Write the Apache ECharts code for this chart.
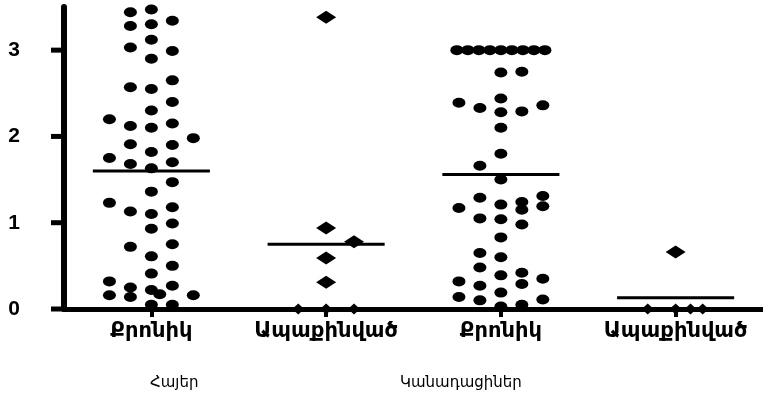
<!DOCTYPE html>
<html><head><meta charset="utf-8">
<script src="https://cdn.jsdelivr.net/npm/echarts@6/dist/echarts.min.js"></script>
<style>html,body{margin:0;padding:0;background:#fff}#c{width:763px;height:400px}</style>
</head><body><div id="c"></div>
<script>
// Categories (x axis) and group labels
var categories = ['Քրոնիկ', 'Ապաքինված', 'Քրոնիկ', 'Ապաքինված'];
var groupLabels = ['Հայեր', 'Կանադացիներ'];
var yTicks = [0, 1, 2, 3];
// Each point: [value, column index within the dot plot]
var armChronic = [
  [3.44,-1],[3.47,0],[3.28,-1],[3.30,0],[3.34,1],[3.03,-1],[3.12,0],[2.99,1],[2.90,0],[2.65,1],
  [2.57,-1],[2.55,0],[2.40,1],[2.30,0],[2.20,-2],[2.12,-1],[2.10,0],[2.15,1],[1.98,2],[1.91,-1],
  [1.90,1],[1.82,0],[1.75,-2],[1.68,-1],[1.63,0],[1.70,1],[1.47,1],[1.36,0],[1.23,-2],[1.13,-1],
  [1.10,0],[1.18,1],[0.93,0],[0.99,1],[0.72,-1],[0.75,1],[0.61,0],[0.50,1],[0.41,0],[0.32,-2],
  [0.25,-1],[0.22,0],[0.27,1],[0.16,-2],[0.14,-1],[0.17,0.4],[0.16,2],[0.05,0],[0.05,1]
];
var armRecovered = [[3.38,0],[0.94,0],[0.78,1.33],[0.59,0],[0.31,0],[0,-1.33],[0,0],[0,1.33]];
var canChronic = [
  [3.0,-2.1],[3.0,-1.575],[3.0,-1.05],[3.0,-0.525],[3.0,0],[3.0,0.525],[3.0,1.05],[3.0,1.575],[3.0,2.1],
  [2.74,0],[2.75,1],[2.39,-2],[2.33,-1],[2.44,0],[2.28,0],[2.29,1],[2.36,2],[2.10,0],[1.80,0],
  [1.66,-1],[1.50,0],[1.29,-1],[1.17,-2],[1.21,0],[1.24,1],[1.15,1],[1.31,2],[1.19,2],[1.05,-1],
  [1.04,0],[0.98,1],[0.83,0],[0.65,-1],[0.60,0],[0.48,-1],[0.39,0],[0.42,1],[0.29,1],[0.35,2],
  [0.32,-2],[0.27,-1],[0.14,-2],[0.19,0],[0.10,-1],[0.11,2],[0.03,0],[0.05,1]
];
var canRecovered = [[0.66,0],[0,-1.33],[0,0],[0,0.71],[0,1.29]];
var means = [1.60, 0.75, 1.56, 0.13];

var COL = 0.12, HALF = 0.335;
// group g is centred at g+0.5 on the hidden value x axis (0 .. 4)
function toXY(arr, g){ return arr.map(function(p){ return [g + 0.5 + p[1]*COL, p[0]]; }); }
var ellipse = 'path://M0 5A5 5 0 1 1 10 5A5 5 0 1 1 0 5Z';
function diamondSize(v){ return v[1] === 0 ? [12,11] : [20,13]; }
var black = {color:'#000', opacity:1};

var series = [
  {type:'scatter', xAxisIndex:1, data:toXY(armChronic,0), symbol:ellipse, symbolSize:[13,10], itemStyle:black, silent:true},
  {type:'scatter', xAxisIndex:1, data:toXY(armRecovered,1), symbol:'diamond', symbolSize:diamondSize, itemStyle:black, silent:true},
  {type:'scatter', xAxisIndex:1, data:toXY(canChronic,2), symbol:ellipse, symbolSize:[13,10], itemStyle:black, silent:true},
  {type:'scatter', xAxisIndex:1, data:toXY(canRecovered,3), symbol:'diamond', symbolSize:diamondSize, itemStyle:black, silent:true}
];
means.forEach(function(m, g){
  series.push({type:'line', xAxisIndex:1, data:[[g+0.5-HALF,m],[g+0.5+HALF,m]], symbol:'none',
    lineStyle:{color:'#000', width:3}, silent:true, z:3});
});
// y-axis tick marks, placed through the axes' own scales at the left edge (x = 0)
series.push({type:'custom', xAxisIndex:1, clip:false, silent:true, z:5,
  data: yTicks.map(function(v){ return [0, v]; }),
  renderItem:function(params, api){
    var p = api.coord([api.value(0), api.value(1)]);
    return {type:'line', shape:{x1:p[0]-13, y1:p[1], x2:p[0], y2:p[1]}, style:{stroke:'#000', lineWidth:5}};
  }});

var chart = echarts.init(document.getElementById('c'), null, {renderer:'canvas'});
chart.setOption({
  animation:false,
  backgroundColor:'#fff',
  grid:{left:64, right:0, top:7, bottom:91, containLabel:false},
  xAxis:[
    {type:'category', data:categories, boundaryGap:true, position:'bottom',
     axisLine:{show:true, lineStyle:{color:'#000', width:5}},
     axisTick:{show:true, inside:false, alignWithLabel:true, interval:0, length:8, lineStyle:{color:'#000', width:4}},
     axisLabel:{show:true, interval:0, color:'#000', fontFamily:'DejaVu Sans', fontWeight:'bold', fontSize:21, margin:12},
     splitLine:{show:false}},
    {type:'value', min:0, max:4, show:false}
  ],
  yAxis:{type:'value', min:0, max:3.5, position:'left',
    axisLine:{show:true, lineStyle:{color:'#000', width:6}},
    axisTick:{show:false},
    axisLabel:{color:'#000', fontFamily:'Liberation Sans', fontWeight:'bold', fontSize:21, margin:44, customValues:yTicks.slice()},
    splitLine:{show:false}},
  graphic:[
    {type:'text', left:150, top:376, style:{text:groupLabels[0], fontFamily:'DejaVu Sans', fontSize:15, fill:'#000'}},
    {type:'text', left:400, top:376, style:{text:groupLabels[1], fontFamily:'DejaVu Sans', fontSize:15, fill:'#000'}}
  ],
  series:series
});
</script></body></html>
